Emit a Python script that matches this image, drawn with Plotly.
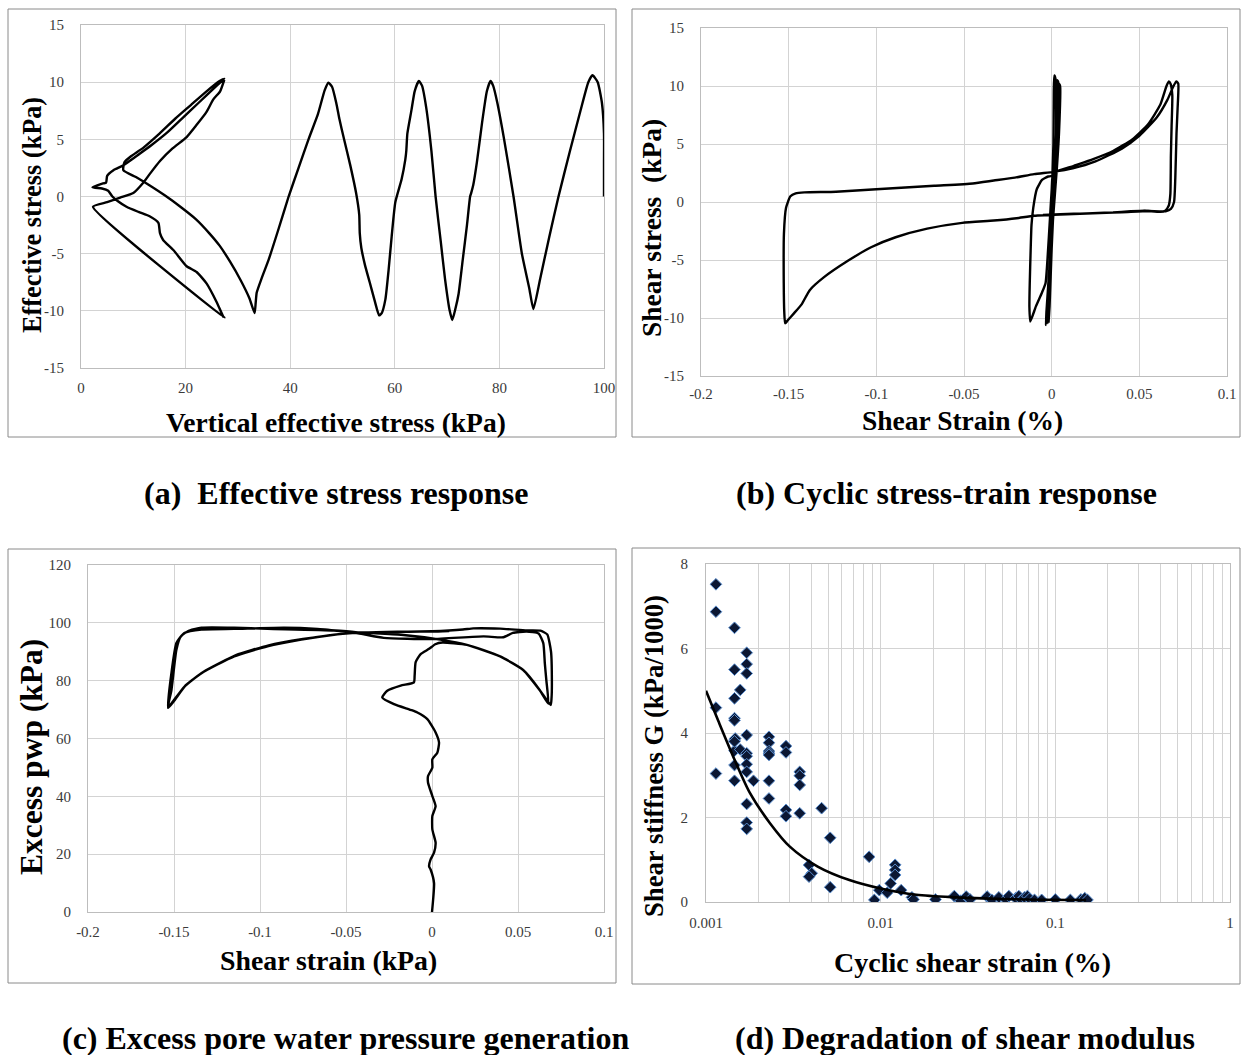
import plotly.graph_objects as go

# ---------------- DATA ----------------
# (a) Effective stress path: vertical effective stress (kPa) vs shear stress (kPa)
a_sigma = [100, 100, 100, 99.6, 98.8, 97.8, 97.0, 95.5, 93.5, 91.3, 89.5, 87.8, 86.5,
           85.7, 84.3, 82.7, 80.9, 79.6, 78.8, 78.3,
           77.6, 76.7, 75.7, 75.0, 74.6, 74.4, 73.8, 73.0, 72.2, 71.6, 71.0,
           70.5, 69.6, 68.8, 67.8, 67.0, 66.0, 65.2, 64.6,
           63.8, 63.2, 62.4, 62.2, 62.0, 61.3, 60.1, 59.4, 58.8, 58.2, 57.5, 57.0,
           56.2, 55.2, 54.3, 53.6, 53.3, 53.2, 52.6, 51.5, 50.3, 49.4, 48.8, 48.0, 47.3,
           46.6, 45.3, 43.5, 41.6, 39.7, 37.8, 35.9, 34.5, 33.6, 33.4, 33.2,
           32.2, 30.5, 28.5, 26.5, 24.5, 22.0, 19.0, 16.0, 13.0, 10.5, 8.1,
           8.3, 9.5, 12.0, 15.0, 18.0, 21.0, 24.0, 26.5, 27.4,
           25.5, 22.5, 19.5, 16.5, 13.5, 10.5, 8.0, 6.2, 5.0, 4.8, 4.2, 2.2,
           4.0, 5.2, 6.0, 7.0, 8.7, 11.0, 13.2, 14.8, 15.1, 15.7, 17.7, 20.2, 22.1, 24.0, 25.9, 27.2,
           27.4, 2.3,
           5.0, 7.5, 10.0, 11.9, 13.2, 15.1, 17.5, 20.2, 22.0, 24.0, 25.3, 26.6, 27.4]
a_tau = [0, 3.0, 5.5, 8.2, 10.0, 10.6, 10.0, 7.5, 4.0, 0.0, -3.6, -7.2, -9.85,
         -8.0, -5.0, 0.0, 5.0, 8.2, 9.7, 10.1,
         9.2, 6.5, 3.0, 1.0, 0.3, 0.0, -2.5, -5.5, -8.5, -9.8, -10.8,
         -10.0, -7.2, -4.0, 0.0, 4.0, 7.8, 9.7, 10.1,
         9.2, 7.6, 5.5, 4.0, 3.2, 1.5, -0.5, -3.5, -6.5, -9.0, -10.2, -10.4,
         -9.2, -7.5, -6.0, -4.5, -3.2, -1.6, 0.3, 2.7, 5.0, 6.8, 8.2, 9.6, 9.95,
         9.3, 7.2, 5.0, 2.5, 0.0, -2.8, -5.5, -7.2, -8.4, -9.3, -10.2,
         -8.9, -7.3, -5.7, -4.3, -3.2, -2.0, -0.9, 0.1, 1.0, 1.7, 2.3,
         3.0, 3.5, 4.3, 5.5, 6.8, 8.0, 9.2, 10.1, 10.3,
         9.5, 8.2, 6.9, 5.6, 4.5, 3.5, 2.7, 2.3, 1.8, 1.2, 1.15, 0.8,
         0.7, 0.5, 0.0, -0.4, -0.9, -1.35, -1.75, -2.3, -3.2, -3.8, -4.7, -6.1, -6.6, -7.6, -9.2, -10.5,
         -10.6, -0.9,
         -0.5, -0.1, 0.3, 1.2, 2.0, 3.1, 4.2, 5.2, 6.2, 7.4, 8.5, 9.2, 10.2]

# (b) Cyclic stress-strain: shear strain (%) vs shear stress (kPa)
b_strain = [0.000, 0.001, 0.0012, 0.0015, 0.0022, 0.0025, 0.0015, 0.0, -0.0012, -0.0018, -0.0012, 0.0,
            0.0015, 0.0022, 0.003, 0.0032, 0.0038, 0.0035, 0.002, 0.0005, -0.001, -0.0025, -0.002,
            -0.0005, 0.001, 0.0025, 0.0035, 0.0042, 0.0048, 0.0042, 0.003, 0.001, -0.0015, -0.0032,
            -0.003, -0.001, 0.0, 0.001,
            -0.002, -0.0055, -0.0085, -0.0105, -0.0115, -0.012, -0.0125, -0.0127, -0.0122, -0.009,
            -0.0055, -0.0035, -0.0022, -0.001, 0.0, 0.001,
            0.0124, 0.0237, 0.035, 0.046, 0.055, 0.062, 0.0655, 0.0668, 0.0678, 0.0688, 0.0684, 0.068,
            0.0677, 0.0668, 0.0648, 0.062, 0.053, 0.045, 0.035, 0.0124, -0.01, -0.02, -0.033, -0.051,
            -0.071, -0.089, -0.103, -0.116, -0.13, -0.138, -0.1425, -0.147, -0.1505, -0.152, -0.1525,
            -0.1528, -0.1527, -0.1515, -0.149, -0.146, -0.141, -0.123, -0.1, -0.067, -0.045, -0.033,
            -0.021, -0.01, 0.001,
            0.012, 0.025, 0.04, 0.05, 0.06, 0.066, 0.0695, 0.0711, 0.0722, 0.0718, 0.0712, 0.0705,
            0.0698, 0.068, 0.065, 0.055, 0.04, 0.02, 0.005, -0.005]
b_stress = [0.0, 5.0, 9.5, 10.9, 10.6, 6.0, 2.0, -3.0, -7.5, -10.4, -9.0, -4.0,
            1.0, 4.0, 8.0, 10.5, 10.3, 6.0, 2.5, -2.0, -6.0, -10.5, -9.0,
            -4.0, 1.5, 4.5, 8.5, 10.2, 10.0, 6.0, 3.0, -1.0, -6.5, -10.6,
            -9.5, -5.0, -1.0, 2.2,
            2.2, 1.9, 1.1, -0.5, -2.0, -4.2, -7.0, -9.0, -10.3, -9.0,
            -7.8, -7.0, -4.5, -1.5, 1.0, 2.5,
            3.1, 3.7, 4.4, 5.4, 6.7, 8.4, 10.0, 10.4, 10.2, 9.2, 6.5, 4.0,
            0.7, -0.3, -0.75, -0.85, -0.75, -0.8, -0.9, -1.03, -1.18, -1.4, -1.6, -1.8,
            -2.3, -3.04, -3.9, -5.05, -6.5, -7.6, -8.8, -9.6, -10.2, -10.45, -9.5,
            -7.0, -2.75, -0.5, 0.5, 0.75, 0.83, 0.89, 1.1, 1.4, 1.6, 1.85,
            2.1, 2.4, 2.6,
            2.9, 3.5, 4.6, 5.7, 7.3, 8.8, 10.0, 10.4, 10.2, 8.0, 5.9, 2.0,
            0.0, -0.6, -0.8, -0.78, -0.88, -0.98, -1.05, -1.12]

# (c) Excess pore water pressure: shear strain vs excess pwp (kPa)
c_strain = [0.0, 0.0012, -0.0008, -0.0017, -0.0008, 0.0012, 0.0021, 0.0002, 0.0002, 0.0021, 0.0002,
            -0.0023, -0.0023, 0.0002, 0.0002, 0.0031, 0.0041, 0.0021, -0.0027, -0.0085, -0.0124,
            -0.0221, -0.0289, -0.026, -0.0182, -0.0105, -0.0101, -0.0095, -0.0066, -0.0017, 0.0019, 0.006,
            0.0203, 0.0396, 0.053, 0.0627, 0.0676,
            0.0665, 0.0656, 0.0647, 0.062, 0.055, 0.047, 0.0415, 0.03, 0.0, -0.028, -0.043, -0.057,
            -0.0956, -0.115, -0.134, -0.142, -0.146, -0.1486, -0.1515, -0.1535,
            -0.1515, -0.144, -0.134, -0.115, -0.0956, -0.076, -0.057, -0.043, -0.028, 0.0, 0.018,
            0.024, 0.0396, 0.055, 0.063,
            0.067, 0.0692, 0.0697, 0.0695, 0.069,
            0.0627, 0.053, 0.0396, 0.0203, 0.0048, -0.018, -0.043, -0.0666, -0.086, -0.115, -0.134,
            -0.144, -0.1486, -0.1515, -0.1535,
            -0.15, -0.143, -0.133, -0.114, -0.095, -0.075, -0.055, -0.04, -0.02, 0.0, 0.01]
c_pwp = [0, 10, 14.7, 15.8, 18.2, 20.5, 24, 28.6, 33.2, 36.6, 40.1,
         44.7, 47, 49.9, 52.8, 55.1, 58.6, 62.1, 66.7, 69, 69.9,
         71.9, 74.2, 76.5, 78.3, 79.4, 81.7, 86.4, 89.2, 91, 92.6, 93.2,
         92.4, 88.4, 83.7, 76.7, 72.1,
         80, 86, 93, 96.3, 97, 96.5, 95, 95.3, 94.4, 94.8, 96.4, 97.3,
         97.9, 98.3, 98.3, 97.1, 95.3, 90.7, 76.7, 70.9,
         72.1, 77.9, 82.6, 88.4, 91.9, 94.2, 95.9, 96.7, 96.8, 97.1, 97.7,
         98.1, 98.0, 97.4, 97.3,
         96.0, 90.0, 80.0, 74.0, 71.6,
         76.7, 83.7, 88.4, 92.4, 94.2, 95.9, 96.7, 97.9, 98.3, 97.9, 97.7,
         96.5, 93.0, 82.6, 70.6,
         73.0, 78.5, 83.0, 88.8, 92.2, 94.4, 96.0, 96.6, 96.9, 97.0, 97.2]

# (d) Shear modulus degradation: measured points and trend curve
d_gamma = [0.00114, 0.00114, 0.00114, 0.00114,
           0.001456, 0.001456, 0.001456, 0.001456, 0.001456, 0.001456, 0.00147, 0.001456, 0.001456,
           0.001456, 0.001456,
           0.00157, 0.00157,
           0.00171, 0.00171, 0.00171, 0.00171, 0.00171, 0.00171, 0.00171, 0.00171, 0.00171, 0.00171,
           0.00171,
           0.00187,
           0.002294, 0.002294, 0.002294, 0.002294, 0.002294, 0.002294, 0.002294,
           0.00287, 0.00287, 0.00287, 0.00287,
           0.00344, 0.00344, 0.00344, 0.00344,
           0.00389, 0.00403, 0.00389,
           0.00459, 0.00514, 0.00514,
           0.00859, 0.0092, 0.00982, 0.0109, 0.0114, 0.0121, 0.0121, 0.0121, 0.0131, 0.0151, 0.0154,
           0.0206, 0.0264, 0.0287, 0.0309, 0.0325, 0.0407, 0.0433, 0.0475, 0.052, 0.0542, 0.0592,
           0.0618, 0.064, 0.0665, 0.0692, 0.0712, 0.076, 0.0835, 0.1, 0.1219, 0.1401, 0.1474, 0.1527]
d_G = [7.52, 6.87, 4.6, 3.04,
       6.49, 5.5, 4.82, 4.35, 4.3, 3.83, 3.87, 3.58, 3.24,
       2.87, 3.8,
       5.02, 3.61,
       5.9, 5.63, 5.41, 3.95, 3.52, 3.45, 3.26, 3.08, 2.32, 1.88,
       1.73,
       2.87,
       3.91, 3.77, 3.57, 3.52, 3.48, 2.87, 2.45,
       3.69, 3.54, 2.18, 2.03,
       3.08, 2.99, 2.77, 2.1,
       0.875, 0.68, 0.6,
       2.22, 1.52, 0.35,
       1.07, 0.05, 0.28, 0.22, 0.44, 0.88, 0.76, 0.64, 0.28, 0.11, 0.06,
       0.06, 0.14, 0.03, 0.13, 0.06, 0.13, 0.05, 0.11, 0.06, 0.14, 0.09,
       0.14, 0.05, 0.11, 0.14, 0.08, 0.05, 0.05, 0.06, 0.05, 0.06, 0.09, 0.05]
d_fit_gamma = [0.001, 0.00118, 0.00146, 0.00179, 0.00233, 0.00302, 0.00436, 0.00662,
               0.0100, 0.016, 0.027, 0.059, 0.15]
d_fit_G = [5.0, 4.27, 3.36, 2.57, 1.86, 1.31, 0.84, 0.52, 0.32, 0.17, 0.11, 0.065, 0.045]

# tick labels
a_xticks = [0, 20, 40, 60, 80, 100]
a_yticks = [-15, -10, -5, 0, 5, 10, 15]
strain_ticks = [-0.2, -0.15, -0.1, -0.05, 0, 0.05, 0.1]
strain_ticktext = ["-0.2", "-0.15", "-0.1", "-0.05", "0", "0.05", "0.1"]
stress_ticktext = ["-15", "-10", "-5", "0", "5", "10", "15"]
c_yticks = [0, 20, 40, 60, 80, 100, 120]
d_xticks = [0.001, 0.01, 0.1, 1]
d_xticktext = ["0.001", "0.01", "0.1", "1"]
d_yticks = [0, 2, 4, 6, 8]

# ---------------- FIGURE ----------------
W, H = 1241, 1055
def px(x):
    return x / W
def py(y):
    return 1 - y / H

SERIF = "Liberation Serif, Times New Roman, serif"
GRID = "#d3d3d3"
LINE = "#bdbdbd"
TICKFONT = dict(family=SERIF, size=15, color="#3a3a3a")

fig = go.Figure()
curve = dict(color="black", width=2.4, shape="spline", smoothing=0.5)
fig.add_trace(go.Scatter(x=a_sigma, y=a_tau, mode="lines", line=curve, xaxis="x", yaxis="y"))
fig.add_trace(go.Scatter(x=b_strain, y=b_stress, mode="lines", line=curve, xaxis="x2", yaxis="y2"))
fig.add_trace(go.Scatter(x=c_strain, y=c_pwp, mode="lines", line=curve, xaxis="x3", yaxis="y3"))
fig.add_trace(go.Scatter(x=d_gamma, y=d_G, mode="markers",
                         marker=dict(symbol="diamond", size=9, color="#0b1733",
                                     line=dict(color="#5b8fd0", width=1)),
                         xaxis="x4", yaxis="y4"))
fig.add_trace(go.Scatter(x=d_fit_gamma, y=d_fit_G, mode="lines",
                         line=dict(color="black", width=2.6, shape="spline", smoothing=0.8),
                         xaxis="x4", yaxis="y4"))

def ax(domain, rng, tickvals, ticktext, anchor, standoff, **kw):
    d = dict(domain=domain, range=rng, tickvals=tickvals, ticktext=ticktext, anchor=anchor,
             showgrid=True, gridcolor=GRID, gridwidth=1, zeroline=False,
             showline=True, linecolor=LINE, linewidth=1, mirror=True, automargin=False,
             ticks="", tickfont=TICKFONT, ticklabelstandoff=standoff, fixedrange=True)
    d.update(kw)
    return d

minor_vals = [m * 10 ** e for e in (-3, -2, -1) for m in range(2, 10)]

fig.update_layout(
    width=W, height=H, autosize=False,
    margin=dict(l=0, r=0, t=0, b=0, pad=0, autoexpand=False),
    paper_bgcolor="white", plot_bgcolor="white",
    showlegend=False,
    xaxis=ax([px(81), px(604)], [0, 100], a_xticks, [str(v) for v in a_xticks], "y", 6),
    yaxis=ax([py(368), py(25)], [-15, 15], a_yticks, stress_ticktext, "x", 13),
    xaxis2=ax([px(701), px(1227)], [-0.2, 0.1], strain_ticks, strain_ticktext, "y2", 4),
    yaxis2=ax([py(376), py(28)], [-15, 15], a_yticks, stress_ticktext, "x2", 13),
    xaxis3=ax([px(88), px(604)], [-0.2, 0.1], strain_ticks, strain_ticktext, "y3", 6),
    yaxis3=ax([py(912), py(565)], [0, 120], c_yticks, [str(v) for v in c_yticks], "x3", 13),
    xaxis4=ax([px(706), px(1230)], [-3, 0], d_xticks, d_xticktext, "y4", 7, type="log",
              minor=dict(tickvals=minor_vals, showgrid=True, gridcolor=GRID, gridwidth=1, ticks="")),
    yaxis4=ax([py(902), py(564)], [0, 8], d_yticks, [str(v) for v in d_yticks], "x4", 14),
)

# outer panel frames
frames = [(8, 9, 616, 437), (632, 9, 1240, 437), (8, 549, 616, 983), (632, 548, 1240, 984)]
for x0, y0, x1, y1 in frames:
    fig.add_shape(type="rect", xref="paper", yref="paper", x0=px(x0), x1=px(x1), y0=py(y1), y1=py(y0),
                  line=dict(color="#8a8a8a", width=1), fillcolor="rgba(0,0,0,0)", layer="below")

def txt(text, x, y, size, angle=0):
    fig.add_annotation(text="<b>" + text + "</b>", xref="paper", yref="paper", x=px(x), y=py(y),
                       xanchor="center", yanchor="middle", showarrow=False, textangle=angle,
                       font=dict(family=SERIF, size=size, color="black"))

# axis titles
txt("Vertical effective stress (kPa)", 336, 422, 27.5)
txt("Effective stress (kPa)", 32, 215, 26.3, -90)
txt("Shear Strain (%)", 962, 420, 27.5)
txt("Shear stress&nbsp;&nbsp;(kPa)", 651, 228, 27.5, -90)
txt("Shear strain (kPa)", 328, 960, 27.8)
txt("Excess pwp (kPa)", 31, 757, 31.5, -90)
txt("Cyclic shear strain (%)", 972, 962, 28)
txt("Shear stiffness G (kPa/1000)", 654, 756, 26.7, -90)

# panel captions
txt("(a)&nbsp;&nbsp;Effective stress response", 337, 493, 32)
txt("(b) Cyclic stress-train response", 946, 493, 32)
txt("(c) Excess pore water pressure generation", 346, 1038, 32)
txt("(d) Degradation of shear modulus", 965, 1038, 32)

fig.write_html("out.html")
